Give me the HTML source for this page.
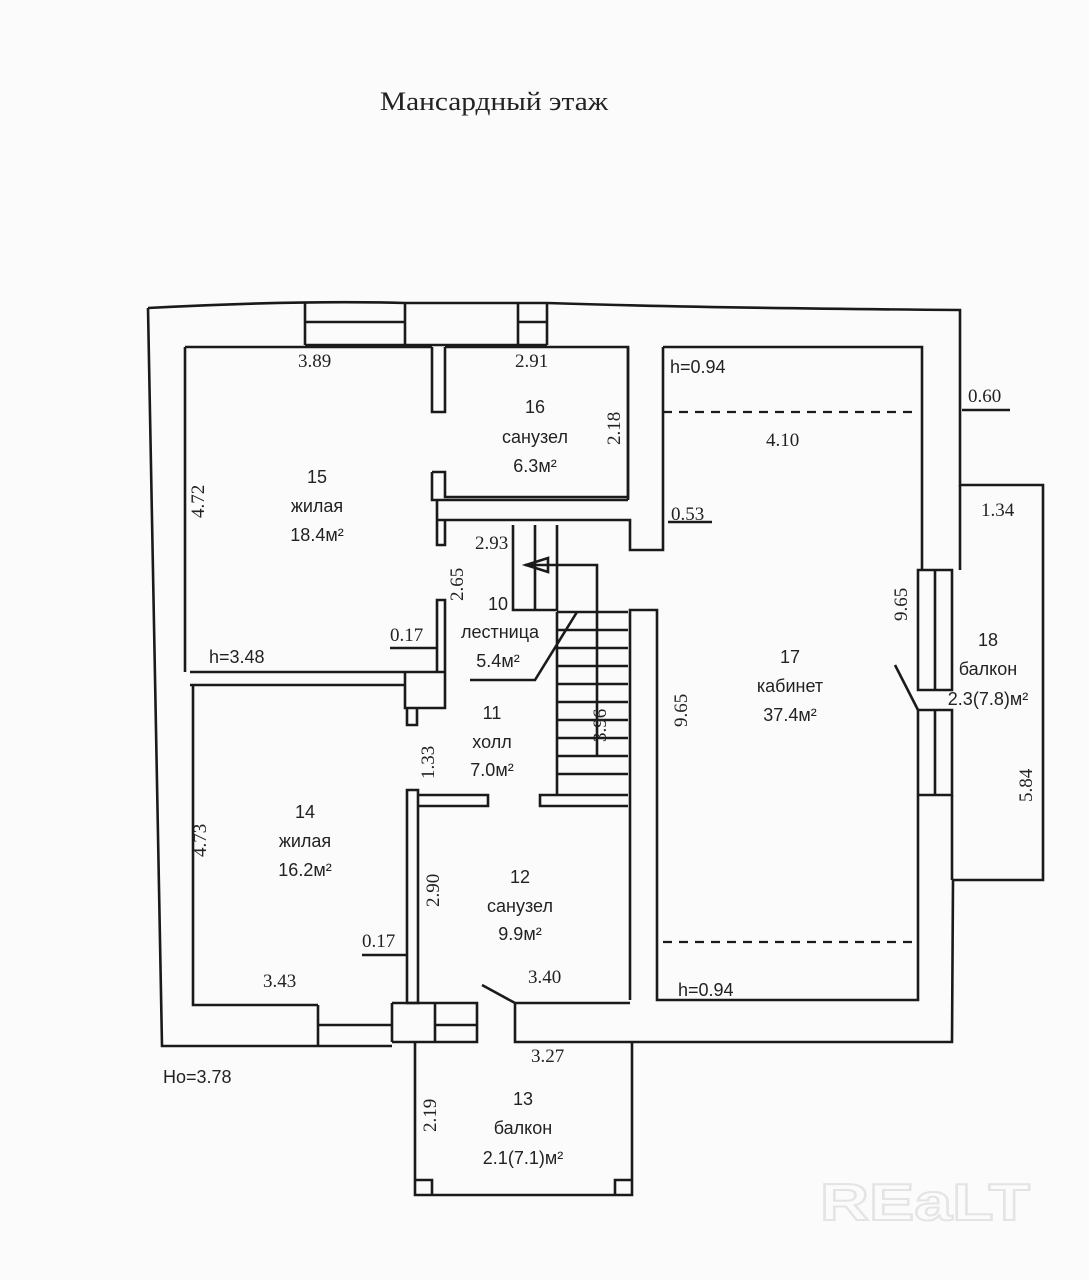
<!DOCTYPE html>
<html><head><meta charset="utf-8"><style>
html,body{margin:0;padding:0;background:#fbfbfb;}
svg{display:block}
.s{font-family:"Liberation Sans","DejaVu Sans",sans-serif;font-size:18px;fill:#222}
.d{font-family:"Liberation Serif","DejaVu Serif",serif;font-size:19px;fill:#222}
</style></head><body>
<svg width="1089" height="1280" viewBox="0 0 1089 1280" xmlns="http://www.w3.org/2000/svg">
<rect width="1089" height="1280" fill="#fbfbfb"/>
<text x="380" y="110" font-family="Liberation Serif,serif" font-size="26" fill="#222" textLength="228" lengthAdjust="spacingAndGlyphs">Мансардный  этаж</text>
<g fill="none" stroke="#1a1a1a" stroke-width="2.6">
<path d="M148 308 Q 300 300 405 303 L 547 303 Q 700 308 960 310 L 960 485 L 1043 485 L 1043 880 L 953 880 L 952 1042 L 515 1042 L 515 1003 L 630 1003"/>
<path d="M148 308 L162 1046 L392 1046"/>
<path d="M305 303 V345 M405 303 V345 M518 303 V345 M547 303 V345 M305 322 H405 M518 322 H547 M305 345 H547"/>
<path d="M185 347 H432 M185 347 V672"/>
<path d="M432 347 V412 H445 V347 M432 472 V500 H437"/>
<path d="M445 347 H628 V497 H445 V472 H432"/>
<path d="M437 500 H628 M437 500 V520 H630 V550 H663 V347 M437 520 V545 H445 V520"/>
<path d="M628 347 V500"/>
<path d="M663 347 H922 V570 M918 570 H952 V690 H918 Z M935 570 V690 M918 710 H952 V795 H918 Z M935 710 V795 M918 795 V1000 H657 V610 H630 V1000 M960 485 V570"/>
<path d="M952 795 V880"/>
<path d="M190 672 H405 M190 685 H405 M405 672 H445 V708 H405 Z M437 600 V672 H445 V600 Z M407 708 V725 H417 V708"/>
<path d="M193 685 V1005 H318 M318 1005 V1045 M392 1003 V1042 M318 1025 H392 M392 1003 H435 V1042 H392 M435 1003 H477 V1042 H435 M435 1025 H477 M392 1042 H477"/>
<path d="M407 790 V1003 H418 V790 Z M418 795 H488 V806 H418 M628 795 H540 V806 H628 M482 985 L515 1003"/>
<path d="M513 525 V610 H557 V525 M535 525 V610 M557 612 V795 M525 565 H597 V757 M470 680 H535 L577 612"/>
<path d="M557 630 H628 M557 648 H628 M557 666 H628 M557 684 H628 M557 702 H628 M557 720 H628 M557 738 H628 M557 756 H628 M557 774 H628 M557 612 H628"/>
<path d="M526 565 L548 558 L548 572 Z"/>
<path d="M895 665 L918 710"/>
<path d="M415 1042 V1195 H632 V1042 M415 1180 H432 V1195 M615 1195 V1180 H632"/>
<path d="M390 648 H437 M362 955 H407 M668 522 H712 M962 410 H1010"/>
</g>
<g stroke="#1a1a1a" stroke-width="2.2" stroke-dasharray="9 7">
<path d="M663 412 H918 M663 942 H918"/>
</g>
<g class="d">
<text x="298" y="367">3.89</text><text x="515" y="367">2.91</text>
<text x="620" y="445" transform="rotate(-90 620 445)">2.18</text>
<text x="204" y="518" transform="rotate(-90 204 518)">4.72</text>
<text x="475" y="549">2.93</text>
<text x="463" y="601" transform="rotate(-90 463 601)">2.65</text>
<text x="390" y="641">0.17</text>
<text x="434" y="779" transform="rotate(-90 434 779)">1.33</text>
<text x="606" y="742" transform="rotate(-90 606 742)">3.96</text>
<text x="687" y="727" transform="rotate(-90 687 727)">9.65</text>
<text x="907" y="621" transform="rotate(-90 907 621)">9.65</text>
<text x="206" y="857" transform="rotate(-90 206 857)">4.73</text>
<text x="439" y="907" transform="rotate(-90 439 907)">2.90</text>
<text x="362" y="947">0.17</text>
<text x="263" y="987">3.43</text><text x="528" y="983">3.40</text>
<text x="531" y="1062">3.27</text>
<text x="436" y="1132" transform="rotate(-90 436 1132)">2.19</text>
<text x="766" y="446">4.10</text><text x="671" y="520">0.53</text>
<text x="968" y="402">0.60</text><text x="981" y="516">1.34</text>
<text x="1032" y="802" transform="rotate(-90 1032 802)">5.84</text>
</g>
<g class="s" text-anchor="middle">
<text x="535" y="413">16</text><text x="535" y="443">санузел</text><text x="535" y="472">6.3м²</text>
<text x="317" y="483">15</text><text x="317" y="512">жилая</text><text x="317" y="541">18.4м²</text>
<text x="498" y="610">10</text><text x="500" y="638">лестница</text><text x="498" y="667">5.4м²</text>
<text x="492" y="719">11</text><text x="492" y="748">холл</text><text x="492" y="776">7.0м²</text>
<text x="305" y="818">14</text><text x="305" y="847">жилая</text><text x="305" y="876">16.2м²</text>
<text x="520" y="883">12</text><text x="520" y="912">санузел</text><text x="520" y="940">9.9м²</text>
<text x="790" y="663">17</text><text x="790" y="692">кабинет</text><text x="790" y="721">37.4м²</text>
<text x="988" y="646">18</text><text x="988" y="675">балкон</text><text x="988" y="705">2.3(7.8)м²</text>
<text x="523" y="1105">13</text><text x="523" y="1134">балкон</text><text x="523" y="1164">2.1(7.1)м²</text>
</g>
<g class="s">
<text x="670" y="373">h=0.94</text><text x="209" y="663">h=3.48</text>
<text x="678" y="996">h=0.94</text><text x="163" y="1083">Ho=3.78</text>
</g>
<text x="820" y="1220" font-family="Liberation Sans,sans-serif" font-size="52" font-weight="bold" fill="none" stroke="#e4e4e4" stroke-width="2" textLength="210" lengthAdjust="spacingAndGlyphs">REaLT</text>
</svg>
</body></html>
